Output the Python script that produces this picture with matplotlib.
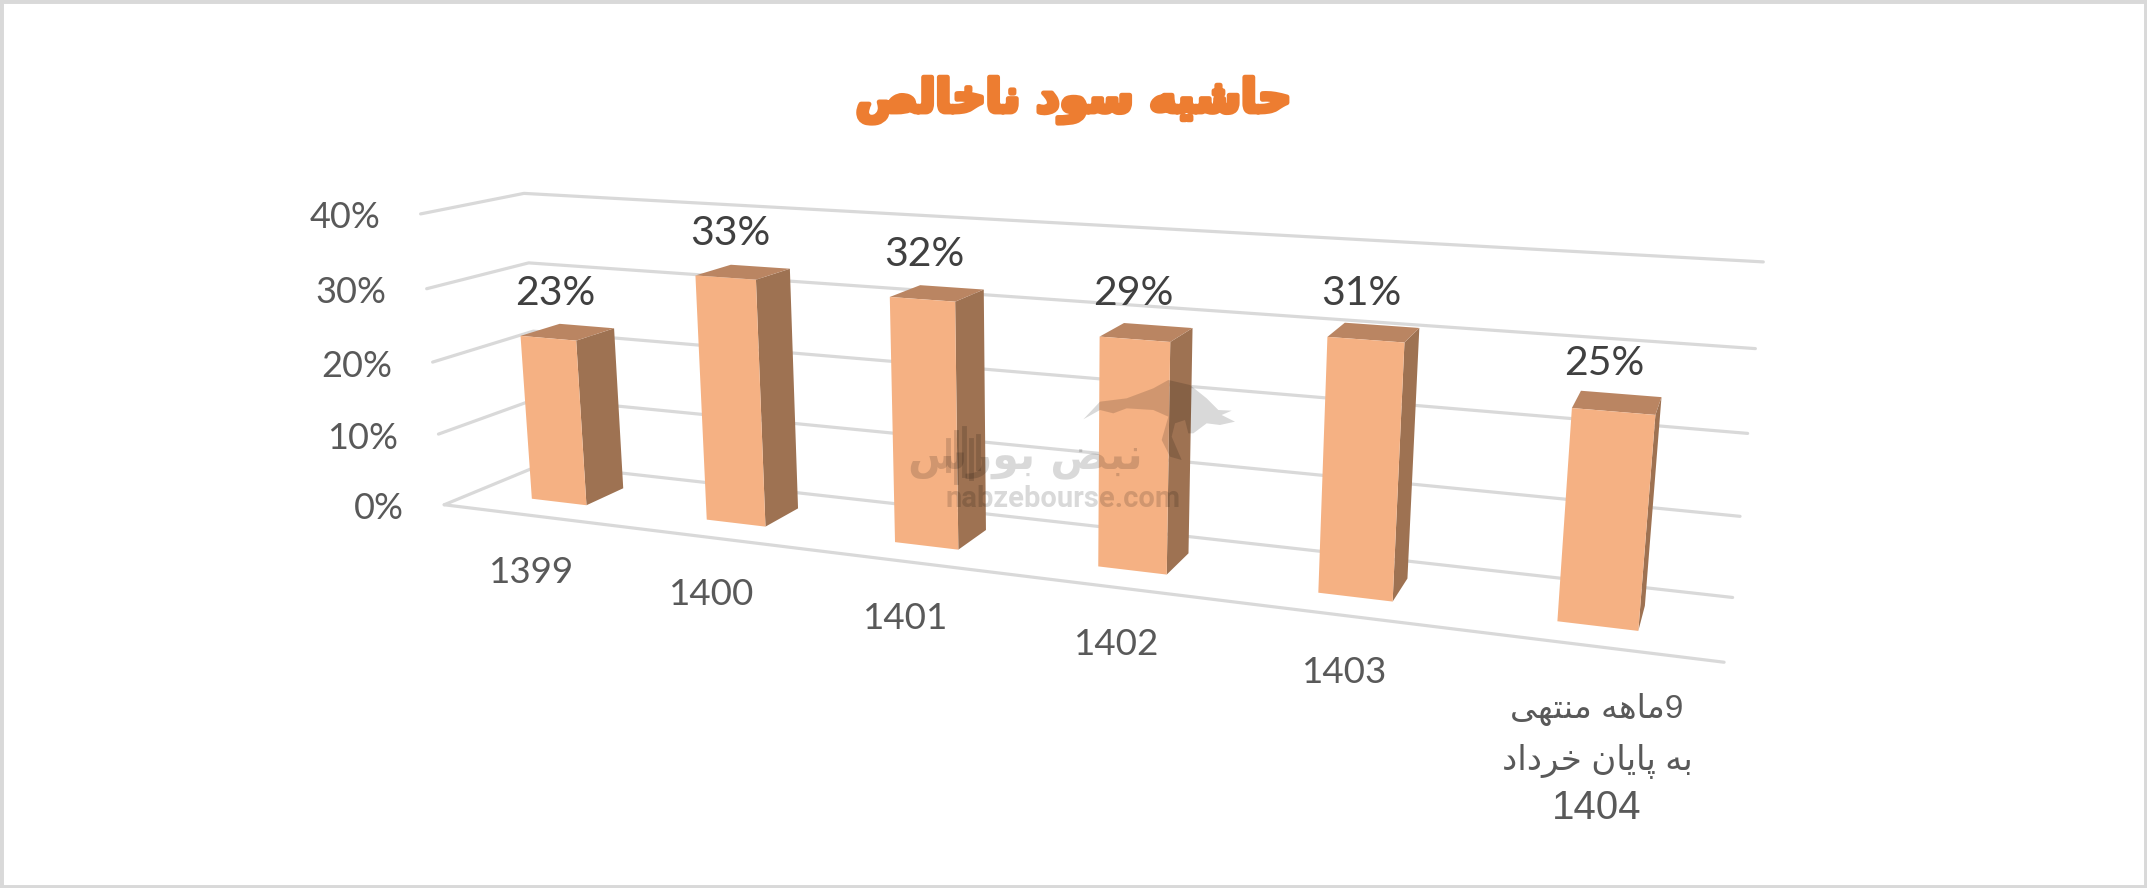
#!/usr/bin/env python3
"""Perspective column chart: gross margin by year."""
import numpy as np
import matplotlib
matplotlib.use('Agg')
import matplotlib.pyplot as plt
import matplotlib.patheffects as pe
from matplotlib.patches import Polygon, Rectangle

TITLE = "حاشیه سود ناخالص"
CATEGORIES = ["1399", "1400", "1401", "1402", "1403"]
LAST_CATEGORY = ["9ماهه منتهی", "به پایان خرداد", "1404"]
MARGINS = [23, 33, 32, 29, 31, 25]
AXIS_TICKS = [0, 10, 20, 30, 40]

FRONT = "#F5B183"
SIDE = "#9E7252"
TOP = "#BA8562"
GRID = "#D9D9D9"
ORANGE = "#ED7D31"

# camera calibration: (category, value, depth) -> pixel on the picture
WORLD = [(0, 0, 0), (0, 10, 0), (0, 20, 0), (0, 30, 0), (0, 40, 0),
         (0, 40, 1), (0, 30, 1), (0, 0, 1),
         (6, 40, 1), (6, 30, 1), (6, 20, 1), (6, 10, 1), (6, 0, 1), (6, 0, 0)]
PIXEL = [(447, 504), (440, 434), (433, 362), (425, 289), (417.5, 214),
         (526, 193), (531, 263), (538, 465),
         (1763, 262), (1755, 349), (1748, 433), (1740, 516), (1733, 597), (1724, 663)]

BAR_WIDTH = 0.32
BAR_DEPTH = (0.3, 0.7)

# letter: isolated, final, initial, medial
FORMS = {
    "ا": "\uFE8D\uFE8E", "د": "\uFEA9\uFEAA", "ر": "\uFEAD\uFEAE", "و": "\uFEED\uFEEE",
    "ب": "\uFE8F\uFE90\uFE91\uFE92", "پ": "\uFB56\uFB57\uFB58\uFB59",
    "ت": "\uFE95\uFE96\uFE97\uFE98", "ح": "\uFEA1\uFEA2\uFEA3\uFEA4",
    "خ": "\uFEA5\uFEA6\uFEA7\uFEA8", "س": "\uFEB1\uFEB2\uFEB3\uFEB4",
    "ش": "\uFEB5\uFEB6\uFEB7\uFEB8", "ص": "\uFEB9\uFEBA\uFEBB\uFEBC",
    "ض": "\uFEBD\uFEBE\uFEBF\uFEC0", "ل": "\uFEDD\uFEDE\uFEDF\uFEE0",
    "م": "\uFEE1\uFEE2\uFEE3\uFEE4", "ن": "\uFEE5\uFEE6\uFEE7\uFEE8",
    "ه": "\uFEE9\uFEEA\uFEEB\uFEEC", "ی": "\uFBFC\uFBFD\uFBFE\uFBFF",
}


def shape(text):
    # matplotlib has no Arabic shaping, so pick joined forms and reverse
    if not any(ch in FORMS for ch in text):
        return text
    out = []
    for i, ch in enumerate(text):
        if ch not in FORMS:
            out.append(ch)
            continue
        prev = text[i - 1] if i > 0 else " "
        nxt = text[i + 1] if i + 1 < len(text) else " "
        joins_prev = prev in FORMS and len(FORMS[prev]) == 4
        joins_next = nxt in FORMS and len(FORMS[ch]) == 4
        if joins_prev and joins_next:
            out.append(FORMS[ch][3])
        elif joins_prev:
            out.append(FORMS[ch][1])
        elif joins_next:
            out.append(FORMS[ch][2])
        else:
            out.append(FORMS[ch][0])
    return "".join(reversed(out))


def fit_camera(world, pixel):
    rows, rhs = [], []
    for (x, y, z), (u, v) in zip(world, pixel):
        rows.append([x, y, z, 1, 0, 0, 0, 0, -u * x, -u * y, -u * z])
        rows.append([0, 0, 0, 0, x, y, z, 1, -v * x, -v * y, -v * z])
        rhs += [u, v]
    sol = np.linalg.lstsq(np.array(rows, float), np.array(rhs, float), rcond=None)[0]
    return np.append(sol, 1.0).reshape(3, 4)


CAMERA = fit_camera(WORLD, PIXEL)


def project(x, y, z):
    u, v, w = CAMERA @ np.array([x, y, z, 1.0])
    return u / w, v / w


def main():
    fig = plt.figure(figsize=(21.47, 8.88), dpi=100)
    ax = fig.add_axes([0, 0, 1, 1])
    ax.set_xlim(0, 2147)
    ax.set_ylim(888, 0)
    ax.axis("off")

    ax.add_patch(Rectangle((0, 0), 2147, 888, fc="none", ec=GRID, lw=5))

    ax.text(1074, 100, shape(TITLE), fontsize=33, fontweight="bold", color=ORANGE,
            family="DejaVu Sans", ha="center", va="center",
            path_effects=[pe.withStroke(linewidth=3.5, foreground=ORANGE)])

    # walls
    for tick in AXIS_TICKS:
        pts = [project(0, tick, 0), project(0, tick, 1), project(6, tick, 1)]
        ax.plot(*zip(*pts), color=GRID, lw=2.3, solid_capstyle="round")
        u, v = pts[0]
        ax.text(u - 40, v + 4, f"{tick}%", fontsize=26, color="#595959", family="Lato",
                ha="right", va="center")
    ax.plot(*zip(project(0, 0, 0), project(6, 0, 0)), color=GRID, lw=2.3, solid_capstyle="round")

    # columns
    z0, z1 = BAR_DEPTH
    for i, val in enumerate(MARGINS):
        x0, x1 = i + 0.5 - BAR_WIDTH / 2, i + 0.5 + BAR_WIDTH / 2
        side = [project(x1, 0, z0), project(x1, 0, z1), project(x1, val, z1), project(x1, val, z0)]
        top = [project(x0, val, z0), project(x1, val, z0), project(x1, val, z1), project(x0, val, z1)]
        front = [project(x0, 0, z0), project(x1, 0, z0), project(x1, val, z0), project(x0, val, z0)]
        ax.add_patch(Polygon(side, fc=SIDE, ec="none", zorder=3))
        ax.add_patch(Polygon(top, fc=TOP, ec="none", zorder=3))
        ax.add_patch(Polygon(front, fc=FRONT, ec="none", zorder=3))
        u, v = project(i + 0.5, val, 0.5)
        ax.text(u - 13, v - 39, f"{val}%", fontsize=29.5, color="#404040", family="Lato",
                ha="center", va="center", zorder=5)

    # category labels
    for i, label in enumerate(CATEGORIES):
        u, v = project(i + 0.5, 0, 0)
        ax.text(u + 2, v + 57, label, fontsize=26.5, color="#595959", family="Lato",
                ha="center", va="center")
    for line, y, size in zip(LAST_CATEGORY, [709, 761, 808], [24, 24.5, 29]):
        ax.text(1597, y, shape(line), fontsize=size, color="#595959",
                family=["Liberation Sans", "DejaVu Sans"], ha="center", va="center")

    # watermark
    bull = [(670, 178), (720, 125), (800, 115), (880, 85), (925, 60), (990, 75), (1040, 115),
            (1075, 150), (1115, 152), (1085, 165), (1125, 185), (1080, 195), (1040, 190),
            (1000, 220), (985, 220), (975, 180), (945, 190), (935, 230), (965, 300), (930, 290),
            (905, 240), (925, 170), (880, 150), (800, 145), (760, 160), (720, 150)]
    ax.add_patch(Polygon([(860 + a / 3, 360 + b / 3) for a, b in bull], fc="black", alpha=0.15,
                         ec="none", zorder=6))
    ax.text(1025, 458, shape("نبض بورس"), fontsize=31, fontweight="bold", color="black", alpha=0.15,
            family="DejaVu Sans", ha="center", va="center", zorder=6)
    ax.text(1063, 499, "nabzebourse.com", fontsize=21, fontweight="bold", color="black", alpha=0.15,
            family="Roboto", ha="center", va="center", zorder=6)
    # candlesticks inside the logo
    for cx, low, high in [(948, 440, 470), (956, 432, 482), (964, 428, 475), (971, 440, 478), (978, 436, 468)]:
        ax.plot([cx, cx], [low, high], color="black", alpha=0.15, lw=3.5, zorder=6)

    fig.savefig("out.png", dpi=100)


if __name__ == "__main__":
    main()
